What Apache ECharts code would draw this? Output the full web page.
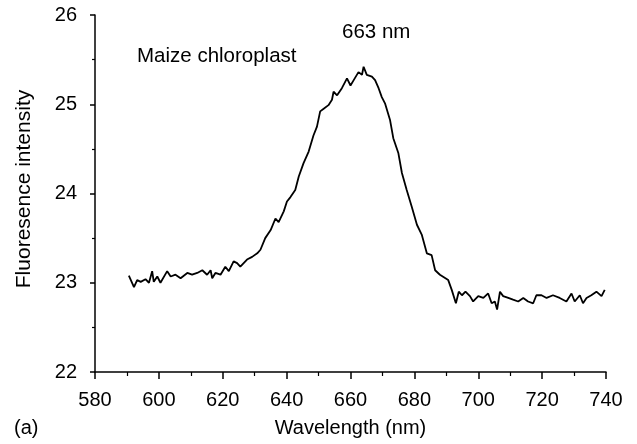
<!DOCTYPE html>
<html>
<head>
<meta charset="utf-8">
<script src="https://cdn.jsdelivr.net/npm/echarts@6/dist/echarts.min.js"></script>
<style>html,body{margin:0;padding:0;background:#fff}#c{width:637px;height:444px}</style>
</head>
<body>
<div id="c"></div>
<script>
const wavelength = [590.6,592.2,593.2,594.3,595.8,596.9,597.9,598.4,599.5,600.5,602.6,603.7,605.2,606.8,608.9,610.4,612,613.6,615.1,616.2,616.7,617.7,619.3,620.8,621.9,623.4,624.5,625.5,627.6,629.2,630.8,631.8,633.3,635,636.5,637.5,639.1,640.1,641.2,642.7,643.8,645.3,646.9,648.4,649.5,650.5,651.6,653.1,654.2,654.7,655.8,657.3,658.9,660,661,662.5,663.6,664.1,665.1,666.7,667.7,668.8,669.8,670.8,672.4,673.4,675,676.1,677.6,679.2,680.8,682.3,683.9,685.4,686.5,688,690.6,691.7,693.0,693.9,694.9,696,697.4,698.4,700,701.6,703.1,704.2,705.2,705.9,706.8,707.8,709.4,710.9,712.5,714.1,715.6,717.2,718.2,719.8,721.4,723.4,725.5,727.6,729.2,730.2,731.8,732.8,733.9,735.4,737,738.6,739.6];
const intensity = [23.08,22.95,23.03,23.01,23.04,23.0,23.13,23.01,23.07,23.0,23.13,23.07,23.09,23.05,23.11,23.09,23.11,23.14,23.09,23.14,23.05,23.11,23.09,23.18,23.13,23.24,23.22,23.18,23.26,23.29,23.33,23.37,23.5,23.59,23.72,23.68,23.8,23.91,23.96,24.04,24.19,24.34,24.47,24.65,24.75,24.92,24.95,24.99,25.05,25.14,25.1,25.18,25.29,25.21,25.27,25.36,25.33,25.42,25.33,25.31,25.27,25.18,25.08,25.01,24.82,24.62,24.45,24.23,24.04,23.85,23.65,23.54,23.33,23.31,23.14,23.09,23.03,22.92,22.77,22.9,22.86,22.9,22.85,22.79,22.85,22.83,22.88,22.77,22.79,22.7,22.9,22.85,22.83,22.81,22.79,22.83,22.79,22.77,22.86,22.86,22.83,22.86,22.83,22.79,22.88,22.79,22.86,22.77,22.83,22.86,22.9,22.85,22.92];
const xTitle = 'Wavelength (nm)';
const yTitle = 'Fluoresence intensity';
const sampleLabel = 'Maize chloroplast';
const peakLabel = '663 nm';
const panelLabel = '(a)';

const FONT = '"Liberation Sans", Arial, sans-serif';
const chart = echarts.init(document.getElementById('c'));
chart.setOption({
  animation: false,
  backgroundColor: '#fff',
  grid: {left: 95, right: 31, top: 15, bottom: 72},
  xAxis: {
    type: 'value', min: 580, max: 740, interval: 20,
    name: xTitle, nameLocation: 'middle', nameGap: 46,
    nameTextStyle: {fontFamily: FONT, fontSize: 20, color: '#000'},
    axisLine: {lineStyle: {color: '#000', width: 1.5}},
    axisTick: {show: true, inside: false, length: 7, lineStyle: {color: '#000', width: 1.5}},
    minorTick: {show: true, splitNumber: 2, length: 4, lineStyle: {color: '#000', width: 1.2}},
    axisLabel: {fontFamily: FONT, fontSize: 20, color: '#000', margin: 18},
    splitLine: {show: false}
  },
  yAxis: {
    type: 'value', min: 22, max: 26, interval: 1,
    name: yTitle, nameLocation: 'middle', nameGap: 60,
    nameTextStyle: {fontFamily: FONT, fontSize: 21, color: '#000', padding: [0, 0, 0, 9]},
    axisLine: {lineStyle: {color: '#000', width: 1.5}},
    axisTick: {show: true, inside: false, length: 5, lineStyle: {color: '#000', width: 1.5}},
    minorTick: {show: true, splitNumber: 2, length: 3, lineStyle: {color: '#000', width: 1.2}},
    axisLabel: {fontFamily: FONT, fontSize: 20, color: '#000', margin: 18},
    splitLine: {show: false}
  },
  series: [{
    type: 'line',
    data: wavelength.map((w, i) => [w, intensity[i]]),
    showSymbol: false,
    lineStyle: {color: '#000', width: 1.8},
    smooth: false
  }],
  graphic: [
    {type: 'text', left: 137, top: 46, style: {text: sampleLabel, font: '20.5px ' + FONT, fill: '#000'}},
    {type: 'text', left: 342, top: 22, style: {text: peakLabel, font: '20.5px ' + FONT, fill: '#000'}},
    {type: 'text', left: 14, top: 418, style: {text: panelLabel, font: '20px ' + FONT, fill: '#000'}}
  ]
});
</script>
</body>
</html>
